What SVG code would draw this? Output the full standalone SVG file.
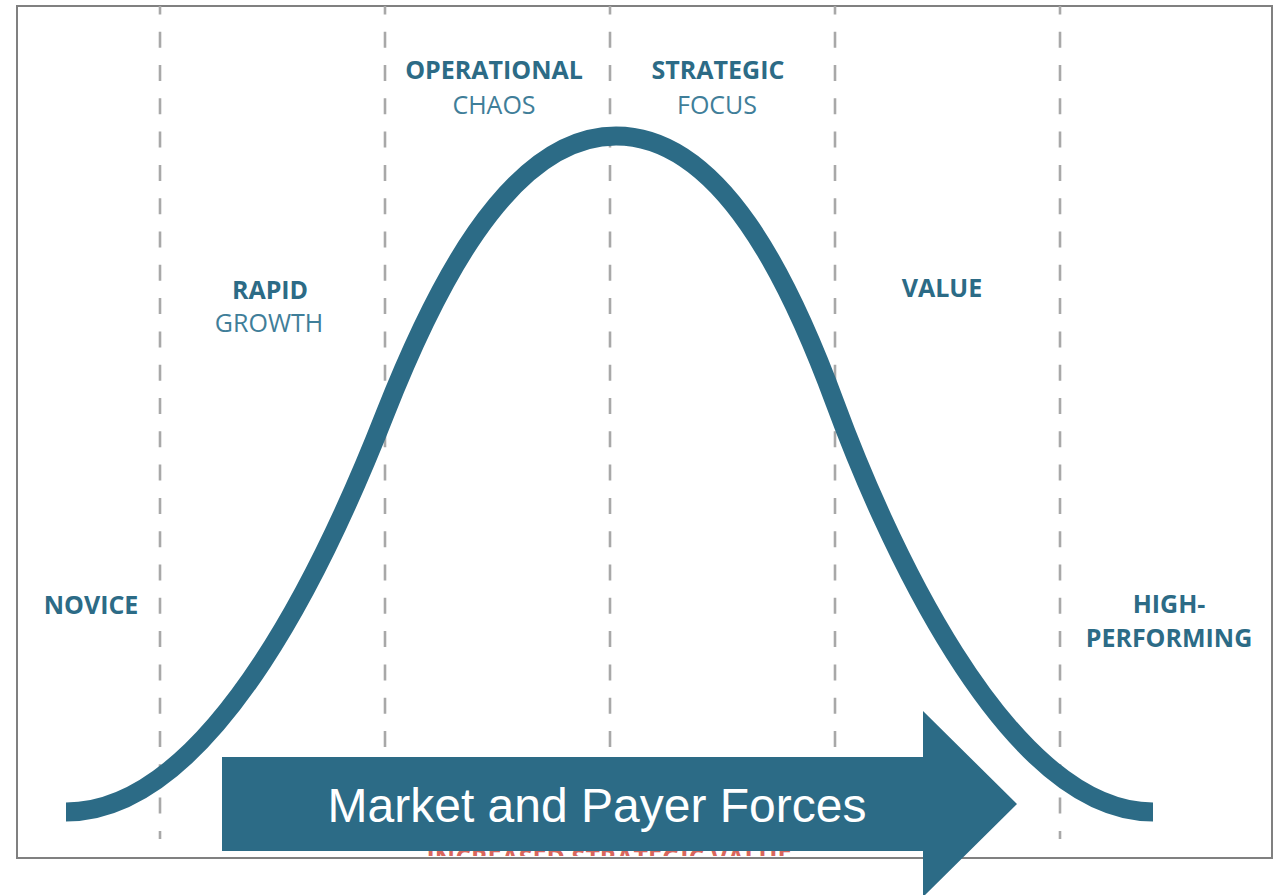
<svg xmlns="http://www.w3.org/2000/svg" width="1281" height="895" viewBox="0 0 1281 895">
  <style>
    .divider { fill: none; stroke: #a8a8a8; stroke-width: 2.6; stroke-dasharray: 16 17.3; stroke-dashoffset: 7.6; }
    .stage { font-family: "Open Sans", "Liberation Sans", sans-serif; font-size: 25px; text-anchor: middle; }
    .stage-main { font-weight: 700; fill: #2c6b86; }
    .stage-sub { font-weight: 400; fill: #3f7e99; }
    .curve { fill: none; stroke: #2c6b86; stroke-width: 19; stroke-linecap: butt; }
    .force { fill: #2c6b86; }
    .force-label { font-family: "Liberation Sans", Arial, sans-serif; font-size: 48px; fill: #ffffff; text-anchor: middle; }
    .axis-note { font-family: "Open Sans", "Liberation Sans", sans-serif; font-size: 25px; font-weight: 700; fill: #d9665c; text-anchor: middle; }
  </style>
  <defs>
    <clipPath id="frame-clip">
      <rect x="18" y="7" width="1253" height="849"/>
    </clipPath>
  </defs>

  <rect x="0" y="0" width="1281" height="895" fill="#ffffff"/>

  <!-- frame -->
  <rect id="frame" x="17" y="6" width="1255" height="852" fill="none" stroke="#808080" stroke-width="2"/>

  <!-- stage dividers -->
  <g id="dividers">
    <line class="divider" x1="160" y1="6" x2="160" y2="839"/>
    <line class="divider" x1="385" y1="6" x2="385" y2="839"/>
    <line class="divider" x1="610" y1="6" x2="610" y2="839"/>
    <line class="divider" x1="835" y1="6" x2="835" y2="839"/>
    <line class="divider" x1="1060" y1="6" x2="1060" y2="839"/>
  </g>

  <!-- axis caption, mostly hidden behind the arrow -->
  <g clip-path="url(#frame-clip)">
    <text class="axis-note" x="609" y="867">INCREASED STRATEGIC VALUE</text>
  </g>

  <!-- stage labels -->
  <g id="stage-novice" class="stage">
    <text class="stage-main" x="91" y="614">NOVICE</text>
  </g>
  <g id="stage-rapid-growth" class="stage">
    <text class="stage-main" x="270" y="299">RAPID</text>
    <text class="stage-sub" x="269" y="332">GROWTH</text>
  </g>
  <g id="stage-operational-chaos" class="stage">
    <text class="stage-main" x="494" y="79">OPERATIONAL</text>
    <text class="stage-sub" x="494" y="114">CHAOS</text>
  </g>
  <g id="stage-strategic-focus" class="stage">
    <text class="stage-main" x="718" y="79">STRATEGIC</text>
    <text class="stage-sub" x="717" y="114">FOCUS</text>
  </g>
  <g id="stage-value" class="stage">
    <text class="stage-main" x="942" y="297">VALUE</text>
  </g>
  <g id="stage-high-performing" class="stage">
    <text class="stage-main" x="1169" y="613">HIGH-</text>
    <text class="stage-main" x="1169" y="647">PERFORMING</text>
  </g>

  <!-- maturity curve -->
  <g id="connectors">
    <path id="maturity-curve" class="curve"
          d="M66,812 C216,812 334,544 385,414 C430,300 506,136 616,136 C721,136 790,281 835,403 C880,525 1003,812 1153,812"/>
  </g>

  <!-- market and payer forces arrow -->
  <g id="market-forces">
    <polygon class="force" points="222,757 923,757 923,711 1017,804 923,897 923,851 222,851"/>
    <text class="force-label" x="597" y="822">Market and Payer Forces</text>
  </g>
</svg>
